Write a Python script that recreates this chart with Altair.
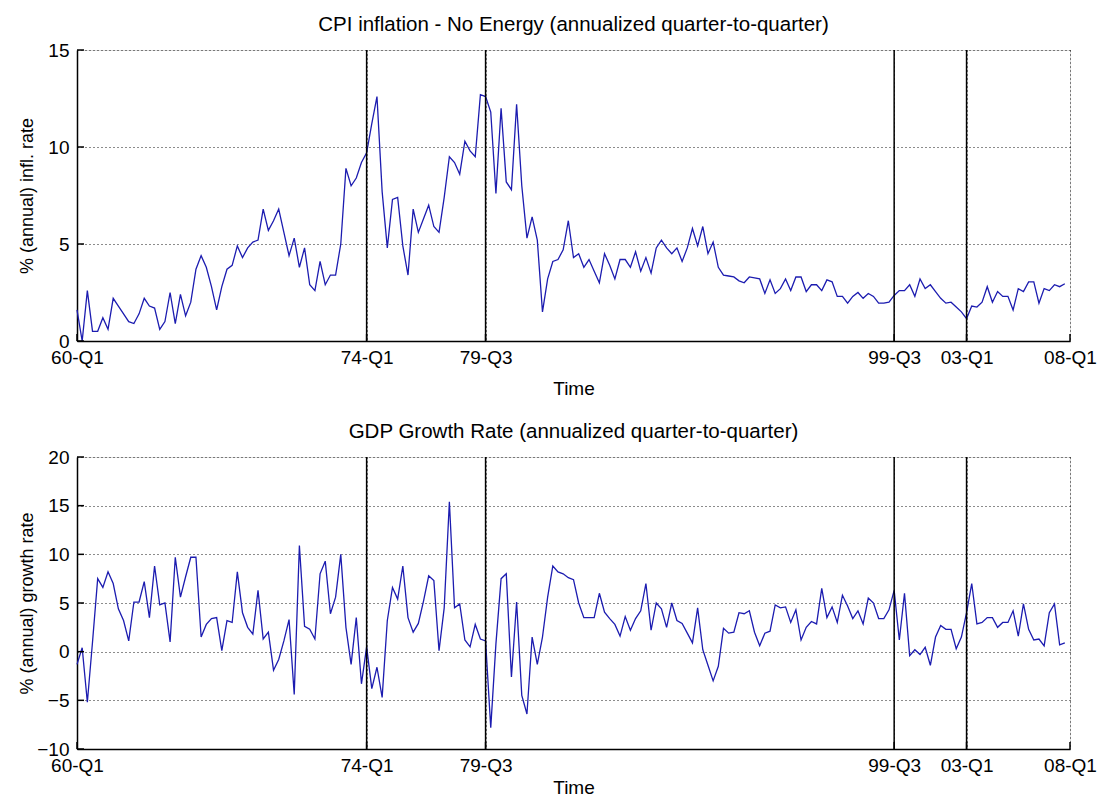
import altair as alt
import pandas as pd

# ---- data (quarterly, 1960Q1 .. 2007Q4) ----
CPI = [
    1.6, 0.0, 2.6, 0.5, 0.5, 1.2, 0.6, 2.2, 1.8, 1.4,
    1.0, 0.9, 1.4, 2.2, 1.8, 1.7, 0.6, 1.0, 2.5, 0.9,
    2.4, 1.3, 2.0, 3.7, 4.4, 3.8, 2.8, 1.6, 2.8, 3.7,
    3.9, 4.9, 4.3, 4.8, 5.1, 5.2, 6.8, 5.7, 6.2, 6.8,
    5.6, 4.4, 5.3, 3.8, 4.8, 2.9, 2.6, 4.1, 2.9, 3.4,
    3.4, 5.0, 8.9, 8.0, 8.4, 9.2, 9.7, 11.2, 12.6, 7.7,
    4.8, 7.3, 7.4, 4.9, 3.4, 6.8, 5.6, 6.3, 7.0, 5.9,
    5.6, 7.4, 9.5, 9.2, 8.6, 10.3, 9.8, 9.5, 12.7, 12.6,
    11.8, 7.6, 12.0, 8.2, 7.8, 12.2, 8.0, 5.3, 6.4, 5.2,
    1.5, 3.2, 4.1, 4.2, 4.7, 6.2, 4.3, 4.5, 3.8, 4.2,
    3.6, 3.0, 4.5, 3.9, 3.2, 4.2, 4.2, 3.8, 4.6, 3.6,
    4.3, 3.5, 4.8, 5.2, 4.8, 4.5, 4.8, 4.1, 4.8, 5.8,
    4.9, 5.9, 4.5, 5.1, 3.8, 3.4, 3.35, 3.3, 3.1, 3.0,
    3.3, 3.25, 3.2, 2.45, 3.15, 2.45, 2.7, 3.2, 2.6, 3.3,
    3.3, 2.55, 2.9, 2.9, 2.6, 3.15, 3.05, 2.3, 2.3, 1.95,
    2.3, 2.5, 2.2, 2.45, 2.3, 1.95, 1.95, 2.0, 2.35, 2.6,
    2.6, 2.9, 2.3, 3.2, 2.7, 2.9, 2.55, 2.2, 1.95, 2.0,
    1.75, 1.5, 1.15, 1.8, 1.75, 2.0, 2.8, 2.0, 2.55, 2.3,
    2.3, 1.6, 2.7, 2.55, 3.05, 3.05, 1.95, 2.7, 2.6, 2.9,
    2.8, 2.95,
]

GDP = [
    -1.3, 0.4, -5.2, 1.0, 7.5, 6.6, 8.2, 7.0, 4.4, 3.2,
    1.1, 5.1, 5.1, 7.2, 3.5, 8.8, 4.8, 5.0, 1.0, 9.7,
    5.6, 7.7, 9.7, 9.7, 1.5, 2.8, 3.4, 3.5, 0.1, 3.2,
    3.0, 8.2, 4.0, 2.5, 1.8, 6.3, 1.3, 2.0, -1.9, -0.8,
    1.1, 3.3, -4.4, 10.9, 2.6, 2.3, 1.3, 8.0, 9.3, 3.9,
    5.6, 10.0, 2.5, -1.3, 3.5, -3.3, 0.5, -3.8, -1.6, -4.7,
    3.2, 6.6, 5.4, 8.8, 3.5, 2.0, 2.9, 5.2, 7.8, 7.3,
    0.1, 4.5, 15.4, 4.5, 4.9, 1.2, 0.5, 2.8, 1.3, 1.1,
    -7.8, 0.8, 7.5, 8.0, -2.6, 5.1, -4.5, -6.4, 1.5, -1.3,
    1.5, 5.6, 8.8, 8.2, 8.0, 7.6, 7.4, 5.0, 3.5, 3.5,
    3.5, 6.0, 4.05, 3.4, 2.8, 1.6, 3.6, 2.2, 3.4, 4.2,
    7.0, 2.2, 5.0, 4.4, 2.5, 5.0, 3.2, 2.9, 1.9, 0.9,
    4.5, 0.2, -1.4, -3.0, -1.5, 2.4, 1.9, 2.0, 4.0, 3.9,
    4.2, 2.0, 0.6, 1.9, 2.1, 4.8, 4.5, 4.6, 3.0, 4.3,
    1.2, 2.5, 3.1, 2.85, 6.5, 3.5, 4.6, 3.0, 5.8, 4.7,
    3.4, 4.2, 2.85, 5.5, 5.0, 3.4, 3.4, 4.3, 6.3, 1.2,
    6.0, -0.4, 0.2, -0.3, 0.45, -1.4, 1.5, 2.7, 2.3, 2.3,
    0.3, 1.5, 4.0, 7.0, 2.85, 3.0, 3.5, 3.5, 2.5, 3.0,
    3.0, 4.2, 1.6, 4.9, 2.3, 1.2, 1.3, 0.6, 4.0, 4.9,
    0.7, 0.9,
]

TICK_POS = [0, 56, 79, 158, 172, 192]
TICK_LABELS = ["60-Q1", "74-Q1", "79-Q3", "99-Q3", "03-Q1", "08-Q1"]
BREAKS = [56, 79, 158, 172]
CPI_TICKS = [0, 5, 10, 15]
GDP_TICKS = [-10, -5, 0, 5, 10, 15, 20]

FONT = "Liberation Sans"
FS = 19          # tick labels, "Time"
FS_TITLE = 20.5  # panel titles
FS_YTITLE = 18   # y-axis titles
W = 993
LINE_COLOR = "#1c1cb0"

label_expr = " : ".join(
    f"datum.value == {p} ? '{l}'" for p, l in zip(TICK_POS, TICK_LABELS)
) + " : ''"

XDOM = [TICK_POS[0], TICK_POS[-1]]


def panel(values, title, ytitle, ydomain, yticks, h, time_y):
    df = pd.DataFrame({"q": list(range(len(values))), "v": values})
    breaks = pd.DataFrame({"q": BREAKS})
    xt = pd.DataFrame({"q": TICK_POS})
    yt = pd.DataFrame({"v": yticks})

    xscale = alt.Scale(domain=XDOM, nice=False, zero=False)
    yscale = alt.Scale(domain=ydomain, nice=False, zero=False)

    xaxis = alt.Axis(
        values=TICK_POS, labelExpr=label_expr, title="Time",
        grid=True, gridDash=[1, 3], gridColor="black", gridOpacity=0.9,
        ticks=False, tickSize=0, domainColor="black", domainWidth=1.5,
        labelPadding=7, labelFontSize=FS, labelFont=FONT, labelColor="black",
        labelFlush=False, labelOverlap=False, labelBound=False,
        titleFontSize=FS, titleFont=FONT, titleFontWeight="normal",
        titleColor="black", titleX=W / 2, titleY=time_y,
        titleBaseline="alphabetic", titleAlign="center",
    )
    yaxis = alt.Axis(
        values=yticks, title=ytitle,
        grid=True, gridDash=[1, 3], gridColor="black", gridOpacity=0.9,
        ticks=False, tickSize=0, domainColor="black", domainWidth=1.5,
        labelPadding=8, labelFontSize=FS, labelFont=FONT, labelColor="black",
        titleFontSize=FS_YTITLE, titleFont=FONT, titleFontWeight="normal",
        titleColor="black", titleX=-45, titleY=h / 2,
        titleBaseline="alphabetic", titleAlign="center",
    )

    line = alt.Chart(df).mark_line(color=LINE_COLOR, strokeWidth=1.3).encode(
        x=alt.X("q:Q", scale=xscale, axis=xaxis),
        y=alt.Y("v:Q", scale=yscale, axis=yaxis),
    )
    rules = alt.Chart(breaks).mark_rule(color="black", strokeWidth=1.5).encode(
        x=alt.X("q:Q", scale=xscale),
    )
    xticks = alt.Chart(xt).mark_rule(color="black", strokeWidth=1.5).encode(
        x=alt.X("q:Q", scale=xscale),
        y=alt.value(h), y2=alt.value(h - 7),
    )
    yticks_l = alt.Chart(yt).mark_rule(color="black", strokeWidth=1.5).encode(
        y=alt.Y("v:Q", scale=yscale),
        x=alt.value(0), x2=alt.value(7),
    )
    return alt.layer(line, rules, xticks, yticks_l).properties(
        width=W, height=h,
        title=alt.TitleParams(
            text=title, fontSize=FS_TITLE, font=FONT, fontWeight="normal",
            color="black", anchor="middle", frame="group", offset=-10,
            baseline="alphabetic",
        ),
    )


top = panel(CPI, "CPI inflation - No Energy (annualized quarter-to-quarter)",
            "% (annual) infl. rate", [0, 15], CPI_TICKS, 291, 53)
bottom = panel(GDP, "GDP Growth Rate (annualized quarter-to-quarter)",
               "% (annual) growth rate", [-10, 20], GDP_TICKS, 292, 44)

chart = alt.vconcat(top, bottom, spacing=22).properties(
    padding={"left": 9, "top": 6, "right": 0, "bottom": -1},
    background="white",
).configure_view(stroke=None).configure(font=FONT)

chart.save("out.html", embed_options={"renderer": "svg", "actions": False})
